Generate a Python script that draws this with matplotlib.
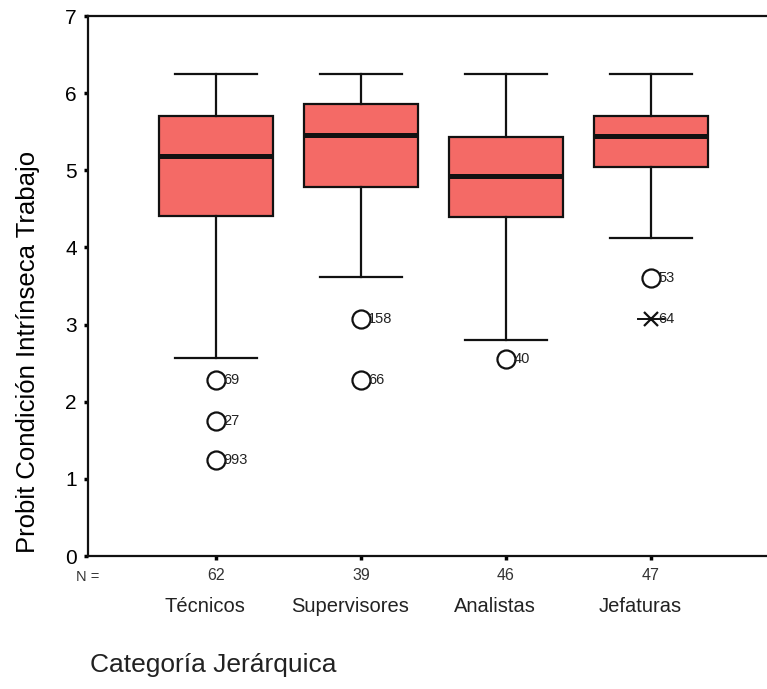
import matplotlib
matplotlib.use("Agg")
import matplotlib.pyplot as plt
import matplotlib.transforms as mtransforms

plt.rcParams['font.family'] = ['Liberation Sans', 'DejaVu Sans']

categories = ["Técnicos", "Supervisores", "Analistas", "Jefaturas"]
n_counts = [62, 39, 46, 47]
whisker_low = [2.57, 3.62, 2.80, 4.12]
q1 = [4.41, 4.78, 4.39, 5.04]
median = [5.19, 5.46, 4.93, 5.44]
q3 = [5.70, 5.86, 5.43, 5.70]
whisker_high = [6.25, 6.25, 6.25, 6.25]

# outliers: (category index, value, label, kind)
out_cat = [0, 0, 0, 1, 1, 2, 3, 3]
out_val = [2.28, 1.75, 1.24, 3.07, 2.28, 2.55, 3.60, 3.07]
out_lab = ["69", "27", "993", "158", "66", "40", "53", "64"]
out_kind = ["o", "o", "o", "o", "o", "o", "o", "x"]

fig = plt.figure(figsize=(7.67, 6.89), dpi=100)
ax = fig.add_axes([88/767, 1-556/689, 1-88/767, (556-16)/689])

positions = list(range(1, len(categories) + 1))
stats = []
for i in range(len(categories)):
    stats.append(dict(med=median[i], q1=q1[i], q3=q3[i],
                      whislo=whisker_low[i], whishi=whisker_high[i],
                      fliers=[], label=categories[i]))

ax.bxp(stats, positions=positions, widths=0.78, patch_artist=True,
       showfliers=False,
       boxprops=dict(facecolor="#F46A66", edgecolor="#111111", linewidth=1.6),
       medianprops=dict(color="#111111", linewidth=3.6),
       whiskerprops=dict(color="#111111", linewidth=1.6),
       capprops=dict(color="#111111", linewidth=1.6),
       capwidths=0.57)

for c, v, lab, k in zip(out_cat, out_val, out_lab, out_kind):
    x = positions[c]
    if k == "o":
        ax.plot([x], [v], marker="o", markersize=13, markerfacecolor="white",
                markeredgecolor="#111111", markeredgewidth=1.6, linestyle="none")
    else:
        ax.plot([x], [v], marker="x", markersize=10, markeredgecolor="#111111",
                markeredgewidth=1.6, linestyle="none")
        ax.plot([x - 0.09, x + 0.09], [v, v], color="#111111", linewidth=1.4)
    ax.text(x + 0.05, v, lab, fontsize=10.5, va="center", ha="left", color="#222222")

ax.set_xlim(0.117, 4.8)
ax.set_ylim(0, 7)
ax.set_yticks(range(0, 8))
ax.tick_params(axis="y", labelsize=15, length=3, width=2.5, direction="out", pad=5)
ax.set_xticks(positions)
ax.set_xticklabels([str(n) for n in n_counts], fontsize=11.5)
ax.tick_params(axis="x", length=3, width=2.5, direction="out", pad=6, labelcolor="#333333")
ax.spines["right"].set_visible(False)
for s in ["left", "bottom", "top"]:
    ax.spines[s].set_linewidth(1.6)
    ax.spines[s].set_color("#111111")

trans = mtransforms.blended_transform_factory(ax.transData, fig.transFigure)
ax.text(0.117, 1 - 577/689, "N =", fontsize=10.5, ha="center", va="center",
        color="#333333", transform=trans)
shift = mtransforms.ScaledTranslation(-11/100, 0, fig.dpi_scale_trans)
for x, cat in zip(positions, categories):
    ax.text(x, 1 - 607/689, cat, fontsize=14.5, ha="center", va="center",
            transform=trans + shift, color="#222222")

ax.set_ylabel("Probit Condición Intrínseca Trabajo", fontsize=18.5)
ax.yaxis.set_label_coords(-0.0707, 0.378)
fig.text(90/767, 1 - 665/689, "Categoría Jerárquica", fontsize=19,
         ha="left", va="center", color="#222222")

fig.savefig("out.png", dpi=100)
